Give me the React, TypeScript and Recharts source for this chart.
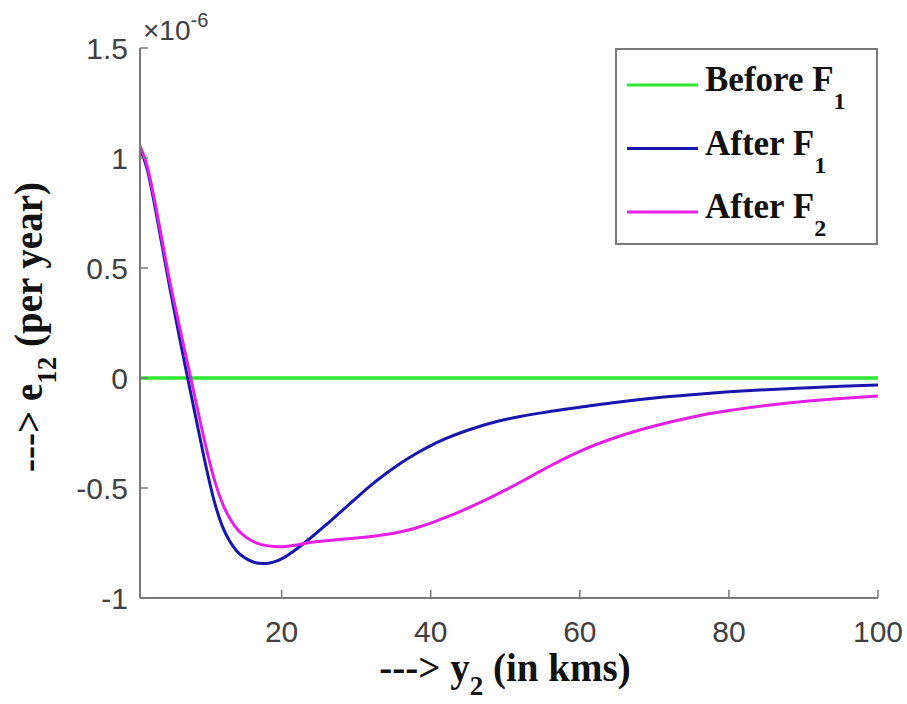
import { LineChart, Line, XAxis, YAxis, Legend } from "recharts";

// y2 (km) sample points
const yKm = [
  1, 2, 3, 4, 5, 6, 7, 8, 9, 10, 11, 12, 13, 14, 15, 16, 17, 18, 19, 20, 21, 22, 24, 26, 28, 30, 32,
  34, 36, 38, 40, 42, 44, 46, 48, 50, 52, 54, 56, 58, 60, 65, 70, 75, 80, 85, 90, 95, 100,
];

// e12 values, in units of 1e-6 per year
const afterF1 = [
  1.045, 0.945, 0.78, 0.595, 0.41, 0.235, 0.065, -0.1, -0.265, -0.425, -0.565, -0.67, -0.74, -0.787,
  -0.816, -0.834, -0.842, -0.843, -0.836, -0.822, -0.801, -0.777, -0.724, -0.666, -0.606, -0.546,
  -0.487, -0.434, -0.386, -0.344, -0.307, -0.276, -0.249, -0.226, -0.206, -0.189, -0.175, -0.163,
  -0.152, -0.142, -0.133, -0.11, -0.091, -0.076, -0.063, -0.053, -0.045, -0.038, -0.032,
];

const afterF2 = [
  1.055, 0.96, 0.8, 0.62, 0.44, 0.28, 0.125, -0.03, -0.185, -0.335, -0.465, -0.565, -0.635, -0.685,
  -0.718, -0.74, -0.754, -0.762, -0.766, -0.767, -0.764, -0.759, -0.747, -0.74, -0.733, -0.727, -0.72,
  -0.7115, -0.699, -0.682, -0.66, -0.634, -0.606, -0.576, -0.544, -0.51, -0.474, -0.437, -0.4,
  -0.365, -0.333, -0.268, -0.218, -0.178, -0.148, -0.125, -0.107, -0.093, -0.082,
];

// the "before" case is flat at zero
const beforeKm = [1, 100];
const beforeF1 = [0, 0];

const xTicks = [20, 40, 60, 80, 100];
const yTicks = [-1, -0.5, 0, 0.5, 1, 1.5];

const seriesNames = ["Before F1", "After F1", "After F2"];
const seriesMain = ["Before F", "After F", "After F"];
const seriesSub = ["1", "1", "2"];
const seriesColors = ["#2ee82e", "#1717ad", "#e61fe6"];

const rows = yKm.map((x, i) => ({ x, a1: afterF1[i], a2: afterF2[i] }));
const beforeRows = beforeKm.map((x, i) => ({ x, b1: beforeF1[i] }));

const SANS = "'Liberation Sans', Arial, Helvetica, sans-serif";
const SERIF = "'Liberation Serif', 'Times New Roman', serif";
const AXIS = "#7a7a7a";
const TICK_TXT = "#404040";

const BottomTick = (props: any) => {
  const { x, y, payload } = props;
  return (
    <g>
      <line x1={x} x2={x} y1={y} y2={y - 8} stroke={AXIS} strokeWidth={1.5} />
      <text x={x} y={y + 44} textAnchor="middle" fontSize={30} fontFamily={SANS} fill={TICK_TXT}>
        {payload.value}
      </text>
    </g>
  );
};

const LeftTick = (props: any) => {
  const { x, y, payload } = props;
  return (
    <g>
      <line x1={x + 12} x2={x + 20} y1={y} y2={y} stroke={AXIS} strokeWidth={1.5} />
      <text x={x} y={y} dy="0.36em" textAnchor="end" fontSize={30} fontFamily={SANS} fill={TICK_TXT}>
        {String(payload.value)}
      </text>
    </g>
  );
};

const TopTick = (props: any) => {
  const { x, y } = props;
  return <line x1={x} x2={x} y1={y} y2={y + 8} stroke={AXIS} strokeWidth={1.5} />;
};

const RightTick = (props: any) => {
  const { x, y } = props;
  return <line x1={x} x2={x - 8} y1={y} y2={y} stroke={AXIS} strokeWidth={1.5} />;
};

const renderLegend = (props: any) => {
  const payload = [...(props.payload || [])].sort(
    (a: any, b: any) => seriesNames.indexOf(a.value) - seriesNames.indexOf(b.value)
  );
  return (
    <svg width={263} height={197} style={{ display: "block" }}>
      <rect x={1} y={1} width={261} height={195} fill="#fff" stroke={AXIS} strokeWidth={2} />
      {payload.map((p: any, i: number) => {
        const k = seriesNames.indexOf(p.value);
        const ly = 37 + i * 63.5;
        return (
          <g key={i}>
            <line x1={12} x2={83} y1={ly} y2={ly} stroke={p.color || seriesColors[k]} strokeWidth={3} />
            <text x={90} y={ly + 6} fontFamily={SERIF} fontWeight="bold" fontSize={35} fill="#111">
              {seriesMain[k]}
              <tspan dy={18} fontSize={24}>
                {seriesSub[k]}
              </tspan>
            </text>
          </g>
        );
      })}
    </svg>
  );
};

export default function App() {
  return (
    <div style={{ position: "absolute", left: 0, top: 0, width: 907, height: 704, background: "#fff" }}>
      <LineChart width={907} height={704} data={rows} margin={{ top: 48, right: 29, bottom: 46, left: 80 }}>
        <XAxis
          xAxisId="b"
          dataKey="x"
          type="number"
          domain={[1, 100]}
          ticks={xTicks}
          height={60}
          allowDataOverflow
          stroke={AXIS}
          strokeWidth={2}
          tickLine={false}
          tickSize={0}
          tickMargin={0}
          tick={<BottomTick />}
          label={{
            content: () => (
              <text x={505} y={681} textAnchor="middle" fontFamily={SERIF} fontWeight="bold" fontSize={39} fill="#111">
                ---&gt; y
                <tspan dy={14} fontSize={27}>
                  2
                </tspan>
                <tspan dy={-14}> (in kms)</tspan>
              </text>
            ),
          }}
        />
        <XAxis
          xAxisId="t"
          orientation="top"
          dataKey="x"
          type="number"
          domain={[1, 100]}
          ticks={xTicks}
          height={0}
          allowDataOverflow
          stroke={AXIS}
          strokeWidth={2}
          tickLine={false}
          tickSize={0}
          tickMargin={0}
          tick={<TopTick />}
        />
        <YAxis
          yAxisId="l"
          type="number"
          domain={[-1, 1.5]}
          ticks={yTicks}
          width={60}
          allowDataOverflow
          stroke={AXIS}
          strokeWidth={2}
          tickLine={false}
          tickSize={0}
          tickMargin={12}
          tick={<LeftTick />}
          label={{
            content: () => (
              <g>
                <text
                  x={42}
                  y={327}
                  transform="rotate(-90, 42, 327)"
                  textAnchor="middle"
                  fontFamily={SERIF}
                  fontWeight="bold"
                  fontSize={39}
                  fill="#111"
                >
                  ---&gt; e
                  <tspan dy={14} fontSize={27}>
                    12
                  </tspan>
                  <tspan dy={-14}> (per year)</tspan>
                </text>
                <text x={143} y={40} fontFamily={SANS} fontSize={28} fill={TICK_TXT}>
                  ×10
                  <tspan dy={-13} fontSize={20}>
                    -6
                  </tspan>
                </text>
              </g>
            ),
          }}
        />
        <YAxis
          yAxisId="r"
          orientation="right"
          type="number"
          domain={[-1, 1.5]}
          ticks={yTicks}
          width={0}
          allowDataOverflow
          stroke={AXIS}
          strokeWidth={2}
          tickLine={false}
          tickSize={0}
          tickMargin={0}
          tick={<RightTick />}
        />
        <Legend
          layout="vertical"
          align="center"
          verticalAlign="middle"
          wrapperStyle={{ left: 615, top: 48, width: 263, height: 197 }}
          content={renderLegend}
        />
        <Line
          xAxisId="b"
          yAxisId="l"
          data={beforeRows}
          dataKey="b1"
          name={seriesNames[0]}
          type="linear"
          stroke={seriesColors[0]}
          strokeWidth={3.5}
          dot={false}
          isAnimationActive={false}
        />
        <Line
          xAxisId="b"
          yAxisId="l"
          dataKey="a1"
          name={seriesNames[1]}
          type="monotone"
          stroke={seriesColors[1]}
          strokeWidth={3}
          dot={false}
          isAnimationActive={false}
        />
        <Line
          xAxisId="b"
          yAxisId="l"
          dataKey="a2"
          name={seriesNames[2]}
          type="monotone"
          stroke={seriesColors[2]}
          strokeWidth={3}
          dot={false}
          isAnimationActive={false}
        />
      </LineChart>
    </div>
  );
}
